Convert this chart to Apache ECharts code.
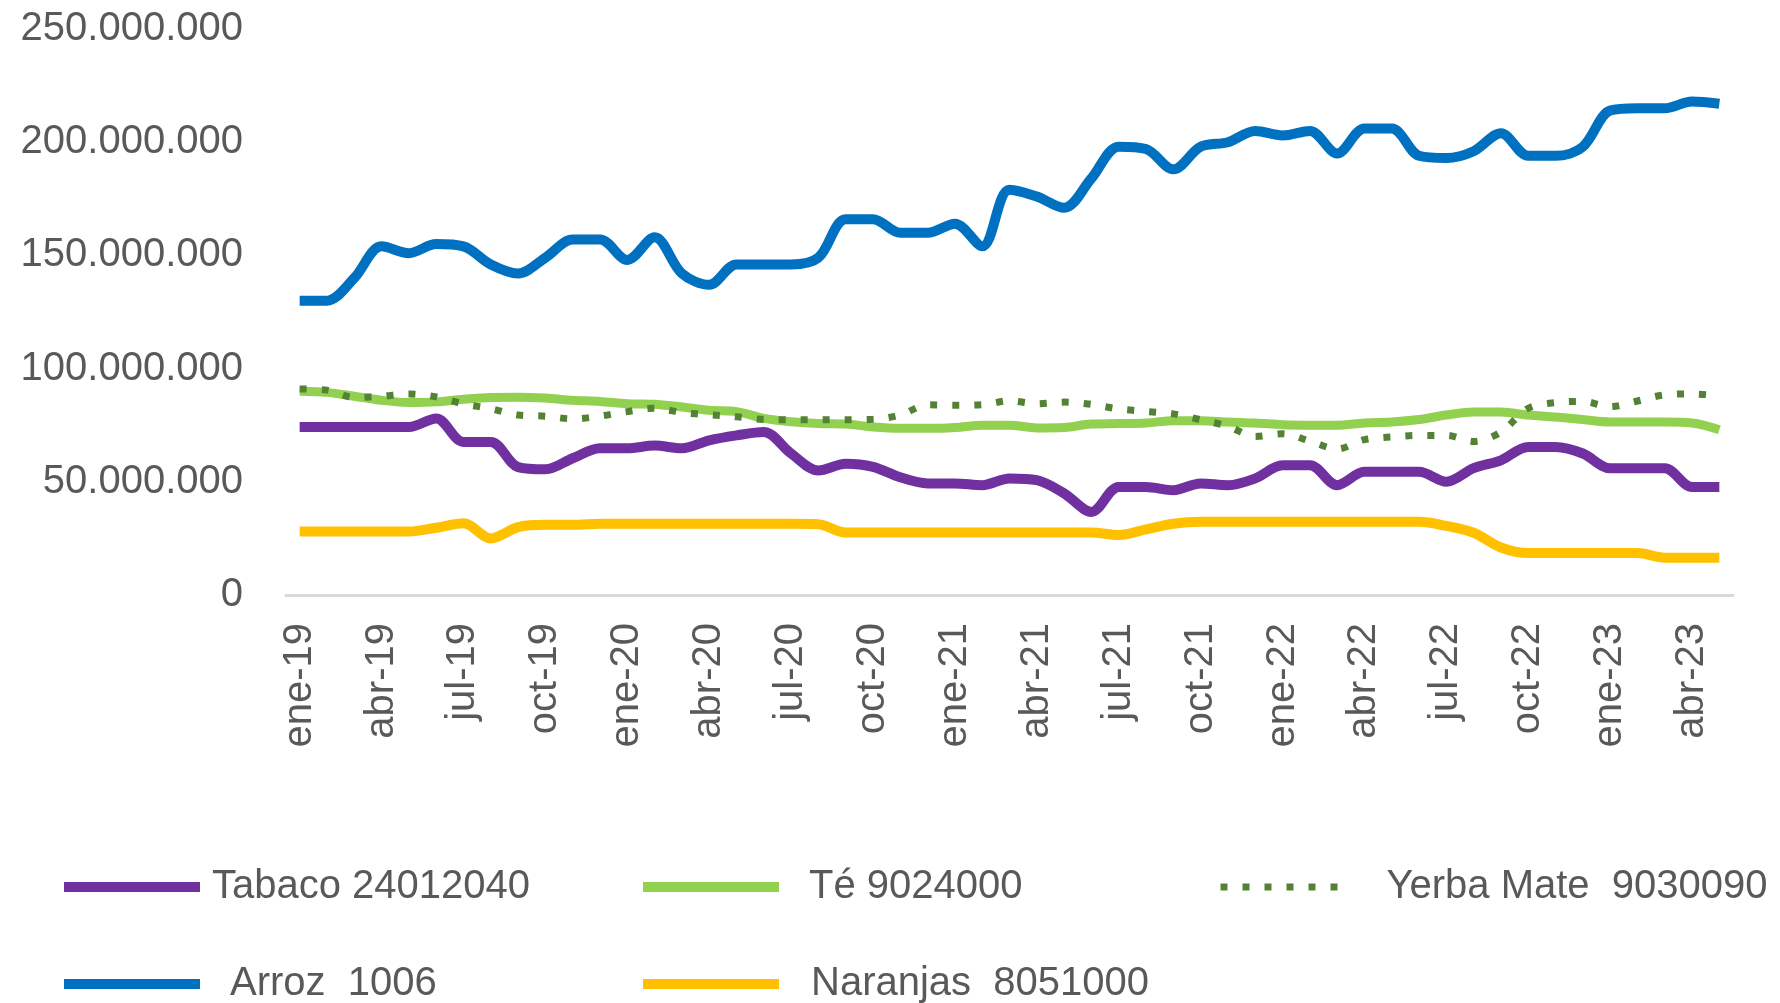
<!DOCTYPE html>
<html>
<head>
<meta charset="utf-8">
<script src="https://cdn.jsdelivr.net/npm/echarts@6/dist/echarts.min.js"></script>
<style>
	html, body { margin: 0; padding: 0; background: #fff; }
	#chart { width: 1780px; height: 1003px; }
</style>
</head>
<body>
<div id="chart"></div>
<script>
// values in millions
var monthNames = ['ene', 'feb', 'mar', 'abr', 'may', 'jun', 'jul', 'ago', 'sep', 'oct', 'nov', 'dic'];
var years = ['19', '20', '21', '22', '23'];
var lastMonth = 5; // may-23

var tabaco = [74.2, 74.2, 74.2, 74.2, 74.2, 78, 67.6, 67.6, 56.5, 55.5, 60.4, 64.8, 64.8, 66, 64.8, 68.3, 70.5, 72, 62.5, 55,
	58, 56.6, 52, 49.3, 49.3, 48.5, 51.5, 50.7, 44.9, 36.7, 47.7, 47.7, 46.3, 49.3, 48.5, 51.5, 57.3, 57.3, 48.5, 54.4,
	54.4, 54.4, 50, 56, 59.5, 65.4, 65.4, 62.5, 56, 56, 56, 47.7, 47.7];
var te = [90, 89.5, 87.8, 86, 85, 85.3, 86.5, 87.2, 87.4, 87, 86, 85.5, 84.5, 84.3, 83, 81.6, 81, 78, 76.5, 75.7,
	75.5, 74.2, 73.6, 73.6, 74, 75, 75, 73.8, 74, 75.5, 75.7, 76, 77, 77, 76.4, 76, 75.2, 75, 75, 76,
	76.4, 77.5, 79.5, 80.8, 80.8, 79.5, 78.6, 77.5, 76.4, 76.4, 76.4, 76, 73];
var yerba = [91, 90.5, 87.3, 87.8, 88.8, 87.5, 84.4, 82.3, 79.5, 79, 77.8, 79, 81, 82.5, 80.6, 79.6, 78.7, 77.5, 77.4, 77.4,
	77.4, 77.6, 79.5, 84, 83.8, 84, 85.8, 84.5, 85.2, 84.2, 82.2, 81.1, 80, 77.4, 74.5, 70, 71.2, 68, 64.5, 68.6,
	69.8, 70.5, 70.5, 67.8, 72, 82.5, 85, 85.5, 83.2, 85.7, 88.4, 88.8, 88];
var arroz = [130, 130, 140, 154, 151, 155, 154, 146, 142, 149, 157, 157, 148, 158, 142, 137, 146, 146, 146, 149,
	166, 166, 160, 160, 164, 154, 179, 176, 171, 184, 198, 197, 188, 198, 200, 205, 203, 205, 195, 206,
	206, 194, 193, 196, 204, 194, 194, 198, 214, 215, 215, 218, 217];
var naranjas = [28, 28, 28, 28, 28, 29.7, 31.7, 25, 30, 31, 31, 31.5, 31.5, 31.5, 31.5, 31.5, 31.5, 31.5, 31.5, 31.3,
	27.6, 27.6, 27.6, 27.6, 27.6, 27.6, 27.6, 27.6, 27.6, 27.6, 26.5, 29, 31.5, 32.3, 32.3, 32.3, 32.3, 32.3, 32.3, 32.3,
	32.3, 32.3, 30.5, 27.5, 21, 18.5, 18.5, 18.5, 18.5, 18.5, 16.5, 16.5, 16.5];

var names = ['Tabaco 24012040', 'Té 9024000', 'Yerba Mate  9030090', 'Arroz  1006', 'Naranjas  8051000'];

var categories = [];
for (var y = 0; y < years.length; y++) {
	for (var m = 0; m < 12; m++) {
		if (y == years.length - 1 && m >= lastMonth) break;
		categories.push(monthNames[m] + '-' + years[y]);
	}
}

var font = 'Liberation Sans';
var grey = '#595959';

function fmt(v) {
	var s = String(Math.round(v * 1000000));
	return s.replace(/\B(?=(\d{3})+(?!\d))/g, '.');
}

function leg(name, left, top, width, pad, lw) {
	return {
		data: [name],
		left: left,
		top: top,
		padding: 0,
		itemWidth: width,
		itemHeight: 10,
		selectedMode: false,
		// hide the little marker ECharts puts in the middle of line icons
		itemStyle: { opacity: 0 },
		lineStyle: { width: lw },
		textStyle: { fontSize: 40, color: grey, fontFamily: font, padding: [0, 0, 0, pad] }
	};
}

var option = {
	animation: false,
	grid: {
		left: 286,
		right: 47,
		top: 29,
		bottom: 408
	},
	legend: [
		leg(names[0], 59, 867, 136, 7, 10),
		leg(names[1], 638, 867, 136, 25, 10),
		leg(names[2], 1217, 867, 122, 39, 7),
		leg(names[3], 59, 964, 136, 25, 10),
		leg(names[4], 638, 964, 136, 27, 10)
	],
	xAxis: {
		type: 'category',
		data: categories,
		boundaryGap: true,
		axisLine: {
			lineStyle: { color: '#D9D9D9', width: 3 }
		},
		axisTick: {
			interval: 2,
			length: 17,
			lineStyle: { color: '#D9D9D9', width: 3 }
		},
		axisLabel: {
			interval: 2,
			rotate: 90,
			margin: 28,
			fontSize: 40,
			color: grey,
			fontFamily: font
		}
	},
	yAxis: {
		type: 'value',
		min: 0,
		max: 250,
		interval: 50,
		axisLine: { show: false },
		axisTick: { show: false },
		splitLine: { show: false },
		axisLabel: {
			margin: 43,
			fontSize: 40,
			color: grey,
			fontFamily: font,
			padding: [5, 0, 0, 0],
			formatter: fmt
		}
	},
	series: [{
		name: names[0],
		type: 'line',
		data: tabaco,
		symbol: 'none',
		smooth: 0.33,
		lineStyle: { color: '#7030A0', width: 10 },
		itemStyle: { color: '#7030A0' }
	}, {
		name: names[1],
		type: 'line',
		data: te,
		symbol: 'none',
		smooth: 0.33,
		lineStyle: { color: '#92D050', width: 9 },
		itemStyle: { color: '#92D050' }
	}, {
		name: names[2],
		type: 'line',
		data: yerba,
		symbol: 'none',
		smooth: 0.33,
		lineStyle: { color: '#548235', width: 7, type: [7, 15] },
		itemStyle: { color: '#548235' }
	}, {
		name: names[3],
		type: 'line',
		data: arroz,
		symbol: 'none',
		smooth: 0.33,
		lineStyle: { color: '#0070C0', width: 10 },
		itemStyle: { color: '#0070C0' }
	}, {
		name: names[4],
		type: 'line',
		data: naranjas,
		symbol: 'none',
		smooth: 0.33,
		lineStyle: { color: '#FFC000', width: 10 },
		itemStyle: { color: '#FFC000' }
	}]
};

var my = echarts.init(document.getElementById('chart'));
my.setOption(option);
</script>
</body>
</html>
